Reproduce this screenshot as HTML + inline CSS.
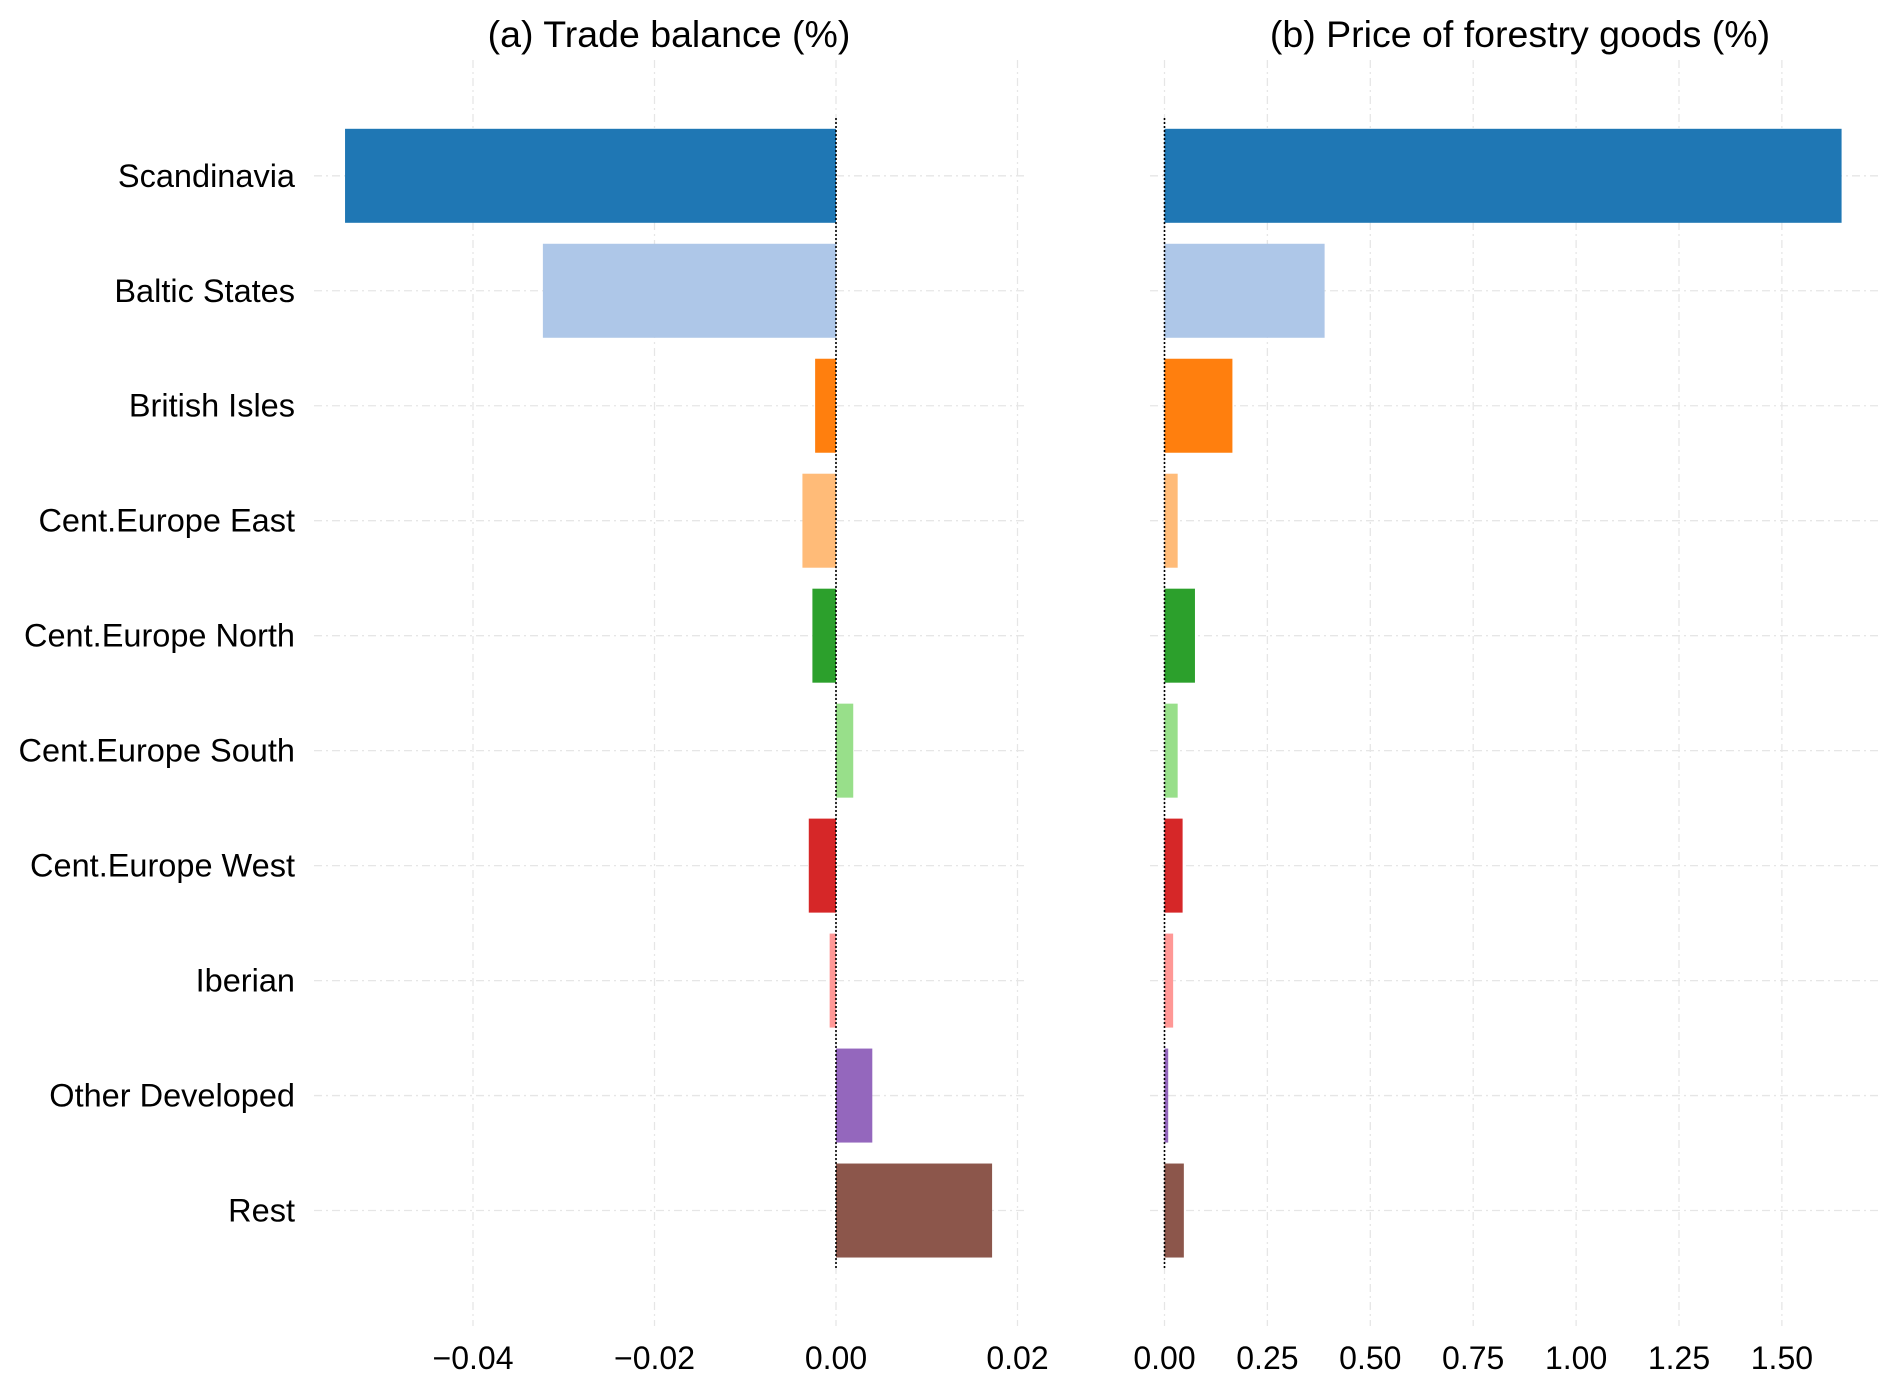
<!DOCTYPE html>
<html><head><meta charset="utf-8"><style>
html,body{margin:0;padding:0;background:#fff;}
svg{display:block;font-family:"Liberation Sans",Arial,sans-serif;}
</style></head><body>
<svg id="chart" width="1892" height="1388" viewBox="0 0 1892 1388"></svg>
<script>
const categories=["Scandinavia","Baltic States","British Isles","Cent.Europe East","Cent.Europe North","Cent.Europe South","Cent.Europe West","Iberian","Other Developed","Rest"];
const tradeBalance=[-0.0541,-0.0323,-0.0023,-0.0037,-0.0026,0.0019,-0.003,-0.0007,0.004,0.0172];
const forestryPrice=[1.645,0.389,0.165,0.032,0.074,0.032,0.044,0.021,0.009,0.047];
const colors=["#1f77b4","#aec7e8","#ff7f0e","#ffbb78","#2ca02c","#98df8a","#d62728","#ff9896","#9467bd","#8c564b"];
const leftTicks=[-0.04,-0.02,0.00,0.02];
const leftTickLabels=["\u22120.04","\u22120.02","0.00","0.02"];
const rightTicks=[0,0.25,0.5,0.75,1.0,1.25,1.5];
const rightTickLabels=["0.00","0.25","0.50","0.75","1.00","1.25","1.50"];

const NS="http://www.w3.org/2000/svg";
const svg=document.getElementById('chart');
function mk(tag,attrs,parent){const e=document.createElementNS(NS,tag);for(const k in attrs)e.setAttribute(k,attrs[k]);(parent||svg).appendChild(e);return e;}
const yC=i=>175.8+i*114.97;
const barH=94;
const xL=v=>836+v/0.02*181.5;
const xR=v=>1164.5+v*411.6;

function panel(name,xf,vals,ticks,labels,gx0,gx1,title,titleX){
  const g=mk('g',{});
  
  
  ticks.forEach((t,i)=>{
    const l=mk('line',{x1:xf(t),x2:xf(t),y1:60,y2:1326,stroke:'#e6e6e6','stroke-width':1.3,'stroke-dasharray':'8,4,2,4'},g);
    
    
    const tx=mk('text',{x:xf(t),y:1369,'text-anchor':'middle','font-size':32,fill:'#000'},g);
    tx.textContent=labels[i];
    
    
  });
  categories.forEach((c,i)=>{
    const l=mk('line',{x1:gx0,x2:gx1,y1:yC(i),y2:yC(i),stroke:'#e6e6e6','stroke-width':1.3,'stroke-dasharray':'8,4,2,4'},g);
    
    
  });
  vals.forEach((v,i)=>{
    const x0=xf(0),x1=xf(v);
    const r=mk('rect',{x:Math.min(x0,x1),y:yC(i)-barH/2,width:Math.abs(x1-x0),height:barH,fill:colors[i]},g);
    
    
  });
  const z=mk('line',{x1:xf(0),x2:xf(0),y1:118,y2:1270,stroke:'#000','stroke-width':1.6,'stroke-dasharray':'2,2'},g);
  
  
  const t=mk('text',{x:titleX,y:47,'text-anchor':'middle','font-size':37.5,fill:'#000'},g);
  t.textContent=title;
  
  
}
panel('trade-balance',xL,tradeBalance,leftTicks,leftTickLabels,314,1026,'(a) Trade balance (%)',669);
panel('forestry-price',xR,forestryPrice,rightTicks,rightTickLabels,1150,1882,'(b) Price of forestry goods (%)',1520);
categories.forEach((c,i)=>{
  const t=mk('text',{x:295,y:yC(i)+11,'text-anchor':'end','font-size':32.5,fill:'#000'});
  t.textContent=c;
  
  
});
</script>
</body></html>
